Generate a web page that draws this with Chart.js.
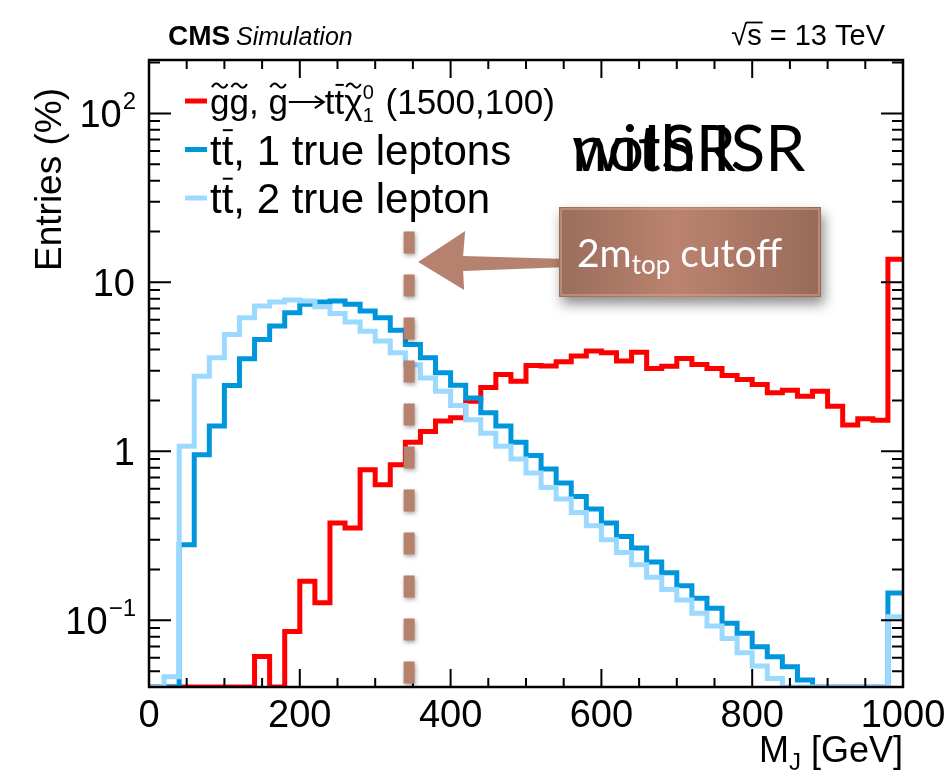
<!DOCTYPE html>
<html>
<head>
<meta charset="utf-8">
<script src="https://cdn.jsdelivr.net/npm/chart.js@4.4.1/dist/chart.umd.min.js"></script>
<style>
  html, body { margin: 0; padding: 0; background: #fff; }
</style>
</head>
<body>
<canvas id="mj" width="952" height="776"></canvas>
<script>
// Low edges of the 20 GeV M_J bins; the last bin closes at X_MAX
const binLow = [0, 20, 40, 60, 80, 100, 120, 140, 160, 180,
  200, 220, 240, 260, 280, 300, 320, 340, 360, 380,
  400, 420, 440, 460, 480, 500, 520, 540, 560, 580,
  600, 620, 640, 660, 680, 700, 720, 740, 760, 780,
  800, 820, 840, 860, 880, 900, 920, 940, 960, 980];
const X_MAX = 1000;

// Entries (%) per bin, 0 = empty bin
const gluino1500 = [0, 0, 0, 0, 0, 0, 0, 0.061, 0, 0.086,
  0.170, 0.127, 0.376, 0.352, 0.779, 0.635, 0.834, 1.13, 1.31, 1.51,
  1.58, 1.98, 2.39, 2.85, 2.60, 3.22, 3.20, 3.39, 3.66, 3.92,
  3.83, 3.42, 3.86, 3.09, 3.19, 3.54, 3.27, 3.09, 2.81, 2.66,
  2.49, 2.22, 2.30, 2.12, 2.27, 1.85, 1.43, 1.56, 1.53, 13.7];
const ttbar1Lep = [0, 0, 0.280, 0.956, 1.41, 2.45, 3.53, 4.59, 5.51, 6.61,
  7.41, 7.64, 7.75, 7.41, 6.76, 6.18, 5.20, 4.29, 3.58, 2.92,
  2.46, 2.07, 1.69, 1.41, 1.13, 0.944, 0.787, 0.650, 0.541, 0.456,
  0.376, 0.313, 0.268, 0.221, 0.191, 0.160, 0.135, 0.118, 0.096, 0.0838,
  0.0698, 0.0609, 0.0531, 0.0443, 0, 0, 0, 0, 0, 0.145];
const ttbar2Lep = [0, 0.0464, 1.07, 2.78, 3.58, 4.92, 6.18, 7.24, 7.64, 7.86,
  7.75, 7.18, 6.55, 5.82, 5.14, 4.49, 3.83, 3.25, 2.72, 2.27,
  1.87, 1.54, 1.28, 1.07, 0.90, 0.744, 0.61, 0.522, 0.435, 0.363,
  0.300, 0.252, 0.213, 0.180, 0.152, 0.132, 0.110, 0.0925, 0.078, 0.0642,
  0.0536, 0.0453, 0, 0, 0, 0, 0, 0, 0, 0.105];

// Axis ticks and labels
const xMajorTicks = [0, 200, 400, 600, 800, 1000];
const xTickLabels = ['0', '200', '400', '600', '800', '1000'];
const yMajorTicks = [0.1, 1, 10, 100];
const yTickBase = ['10', '1', '10', '10'];
const yTickExp = ['\u22121', '', '', '2'];
const Y_MIN = 0.0403;
const Y_MAX = 207;

// 2 m_top in GeV and the height the marker line reaches
const CUTOFF_GEV = 345;
const CUTOFF_TOP = 20;

const SANS = '"Liberation Sans", Arial, Helvetica, sans-serif';
const HUMANIST = 'Lato, "Open Sans", sans-serif';
const RED = '#ff0000';
const BLUE = '#0096dc';
const LIGHT = '#9cd9ff';

// histogram outline: one point per low edge plus the closing edge
function outline(vals) {
    const pts = binLow.map((x, i) => ({ x: x, y: Math.max(vals[i], Y_MIN) }));
    pts.push({ x: X_MAX, y: Math.max(vals[vals.length - 1], Y_MIN) });
    return pts;
}

function histSet(label, vals, color, order) {
    return {
        label: label,
        data: outline(vals),
        borderColor: color,
        borderWidth: 5,
        stepped: 'before',
        pointRadius: 0,
        fill: false,
        borderJoinStyle: 'miter',
        borderCapStyle: 'butt',
        order: order
    };
}

// small accent helpers for the legend text
function tilde(ctx, cx, ty, w) {
    const h = 3;
    ctx.beginPath();
    ctx.moveTo(cx - w / 2, ty + h / 2);
    ctx.quadraticCurveTo(cx - w / 4, ty - h * 1.6, cx, ty);
    ctx.quadraticCurveTo(cx + w / 4, ty + h * 1.6, cx + w / 2, ty - h / 2);
    ctx.lineWidth = 2;
    ctx.stroke();
}

function bar(ctx, x, ty, w) {
    ctx.beginPath();
    ctx.moveTo(x + w * 0.1, ty);
    ctx.lineTo(x + w * 0.95, ty);
    ctx.lineWidth = 2;
    ctx.stroke();
}

function arrow(ctx, x, ay, w) {
    ctx.lineWidth = 2;
    ctx.beginPath();
    ctx.moveTo(x + 1, ay);
    ctx.lineTo(x + w - 2, ay);
    ctx.moveTo(x + w - 10, ay - 6);
    ctx.lineTo(x + w - 1, ay);
    ctx.lineTo(x + w - 10, ay + 6);
    ctx.stroke();
}

// draws a run of text pieces; returns the x where it ends
function rich(ctx, x, y, parts, size) {
    for (const p of parts) {
        const s = p.size || size;
        ctx.font = s + 'px ' + SANS;
        if (p.arrow) {
            arrow(ctx, x, y - size * 0.33, p.arrow);
            x += p.arrow;
            continue;
        }
        const w = ctx.measureText(p.t).width;
        if (p.stack) {
            ctx.fillText(p.stack[0], x, y - size * 0.42);
            ctx.fillText(p.stack[1], x, y + size * 0.24);
            x += Math.max(w, ctx.measureText(p.stack[1]).width) + 2;
            continue;
        }
        ctx.fillText(p.t, x, y);
        if (p.acc === 'tilde') tilde(ctx, x + w / 2, y - size * 0.8, w * 0.8);
        if (p.acc === 'bar') bar(ctx, x, y - size * 0.82, w);
        x += w;
    }
    return x;
}

const legendRows = [
    { color: RED, size: 35, parts: [
        { t: 'g', acc: 'tilde' }, { t: 'g', acc: 'tilde' }, { t: ', ' }, { t: 'g', acc: 'tilde' },
        { arrow: 37 }, { t: 't' }, { t: 't', acc: 'bar' }, { t: '\u03c7', acc: 'tilde' },
        { t: '0', size: 20, stack: ['0', '1'] }, { t: ' (1500,100)' }] },
    { color: BLUE, size: 42, parts: [{ t: 't' }, { t: 't', acc: 'bar' }, { t: ', 1 true leptons' }] },
    { color: LIGHT, size: 42, parts: [{ t: 't' }, { t: 't', acc: 'bar' }, { t: ', 2 true lepton' }] }
];

const decorations = {
    id: 'decorations',
    afterDatasetsDraw(chart) {
        const ctx = chart.ctx;
        const a = chart.chartArea;
        const xs = chart.scales.x;
        const ys = chart.scales.y;
        ctx.save();
        ctx.fillStyle = '#000';
        ctx.strokeStyle = '#000';

        // frame
        ctx.lineWidth = 2.5;
        ctx.strokeRect(a.left, a.top, a.right - a.left, a.bottom - a.top);

        // x ticks, bottom and top
        ctx.lineWidth = 2;
        for (let v = 0; v <= X_MAX; v += 50) {
            const px = xs.getPixelForValue(v);
            const len = v % 200 === 0 ? 18 : 9;
            ctx.beginPath();
            ctx.moveTo(px, a.bottom); ctx.lineTo(px, a.bottom - len);
            ctx.moveTo(px, a.top); ctx.lineTo(px, a.top + len);
            ctx.stroke();
        }
        // y ticks, left and right
        for (let k = -2; k <= 2; k++) {
            for (let m = 1; m <= 9; m++) {
                const v = m * Math.pow(10, k);
                if (v < Y_MIN || v > Y_MAX) continue;
                const py = ys.getPixelForValue(v);
                const len = m === 1 ? 22 : 11;
                ctx.beginPath();
                ctx.moveTo(a.left, py); ctx.lineTo(a.left + len, py);
                ctx.moveTo(a.right, py); ctx.lineTo(a.right - len, py);
                ctx.stroke();
            }
        }

        // tick labels
        ctx.textBaseline = 'alphabetic';
        ctx.textAlign = 'center';
        ctx.font = '38px ' + SANS;
        xMajorTicks.forEach((v, i) => {
            ctx.fillText(xTickLabels[i], xs.getPixelForValue(v), a.bottom + 40);
        });
        ctx.textAlign = 'left';
        yMajorTicks.forEach((v, i) => {
            const py = ys.getPixelForValue(v);
            ctx.font = '38px ' + SANS;
            const wb = ctx.measureText(yTickBase[i]).width;
            ctx.font = '24px ' + SANS;
            const we = ctx.measureText(yTickExp[i]).width;
            const x0 = a.left - 14 - wb - we;
            ctx.font = '38px ' + SANS;
            ctx.fillText(yTickBase[i], x0, py + 14);
            ctx.font = '24px ' + SANS;
            ctx.fillText(yTickExp[i], x0 + wb + 1, py - 4);
        });

        // axis titles
        ctx.save();
        ctx.translate(61, 88);
        ctx.rotate(-Math.PI / 2);
        ctx.textAlign = 'right';
        ctx.font = '37px ' + SANS;
        ctx.fillText('Entries (%)', 0, 0);
        ctx.restore();

        ctx.textAlign = 'left';
        ctx.font = '36px ' + SANS;
        const wTail = ctx.measureText(' [GeV]').width;
        const wM = ctx.measureText('M').width;
        ctx.font = '24px ' + SANS;
        const wJ = ctx.measureText('J').width;
        const tx = a.right - wTail - wJ - wM;
        ctx.font = '36px ' + SANS;
        ctx.fillText('M', tx, 762);
        ctx.font = '24px ' + SANS;
        ctx.fillText('J', tx + wM, 770);
        ctx.font = '36px ' + SANS;
        ctx.fillText(' [GeV]', tx + wM + wJ, 762);

        // header
        ctx.font = 'bold 28px ' + SANS;
        ctx.fillText('CMS', 168, 45);
        const wCms = ctx.measureText('CMS ').width;
        ctx.font = 'italic 25px ' + SANS;
        ctx.fillText('Simulation', 166 + wCms, 45);

        ctx.font = '29px ' + SANS;
        const energy = ' = 13 TeV';
        const wE = ctx.measureText(energy).width;
        const wS = ctx.measureText('s').width;
        const wRoot = ctx.measureText('\u221a').width;
        const ex = a.right - 18 - wE - wS - wRoot;
        ctx.fillText('\u221a', ex, 45);
        ctx.fillText('s', ex + wRoot, 45);
        ctx.lineWidth = 1.8;
        ctx.beginPath();
        ctx.moveTo(ex + wRoot - 1, 22.5);
        ctx.lineTo(ex + wRoot + wS + 1, 22.5);
        ctx.stroke();
        ctx.fillText(energy, ex + wRoot + wS, 45);

        // legend
        legendRows.forEach((row, i) => {
            const yc = 101 + i * 48.5;
            ctx.strokeStyle = row.color;
            ctx.lineWidth = 5;
            ctx.beginPath();
            ctx.moveTo(185, yc); ctx.lineTo(207, yc);
            ctx.stroke();
            ctx.strokeStyle = '#000';
            ctx.fillStyle = '#000';
            rich(ctx, 210, yc + row.size * 0.36, row.parts, row.size);
        });

        // overlaid ISR captions
        ctx.font = '64px ' + HUMANIST;
        ctx.fillText('noISR', 572, 171);
        ctx.fillText('with ISR', 572, 171);

        // 2 m_top marker line
        const cx = xs.getPixelForValue(CUTOFF_GEV);
        ctx.save();
        ctx.strokeStyle = '#b7826d';
        ctx.lineWidth = 11;
        ctx.setLineDash([22, 21]);
        ctx.shadowColor = 'rgba(0,0,0,0.35)';
        ctx.shadowBlur = 4;
        ctx.shadowOffsetX = 1;
        ctx.shadowOffsetY = 2;
        ctx.beginPath();
        ctx.moveTo(cx, ys.getPixelForValue(CUTOFF_TOP));
        ctx.lineTo(cx, a.bottom);
        ctx.stroke();
        ctx.restore();

        // arrow pointing at the marker
        const tipX = cx + 9;
        ctx.save();
        ctx.fillStyle = 'rgba(178,122,102,0.95)';
        ctx.beginPath();
        ctx.moveTo(tipX, 262);
        ctx.lineTo(tipX + 47, 231);
        ctx.lineTo(tipX + 45, 256);
        ctx.lineTo(tipX + 150, 259);
        ctx.lineTo(tipX + 150, 267);
        ctx.lineTo(tipX + 45, 271);
        ctx.lineTo(tipX + 46, 290);
        ctx.closePath();
        ctx.fill();
        ctx.restore();

        // caption box
        const bx = 559, by = 207, bw = 262, bh = 90;
        ctx.save();
        ctx.shadowColor = 'rgba(0,0,0,0.45)';
        ctx.shadowBlur = 12;
        ctx.shadowOffsetX = 3;
        ctx.shadowOffsetY = 7;
        const g = ctx.createLinearGradient(bx, 0, bx + bw, 0);
        g.addColorStop(0, '#9a6d5b');
        g.addColorStop(0.45, '#bb836f');
        g.addColorStop(1, '#986a59');
        ctx.fillStyle = g;
        ctx.fillRect(bx, by, bw, bh);
        ctx.restore();
        ctx.strokeStyle = 'rgba(215,165,145,0.7)';
        ctx.lineWidth = 1.5;
        ctx.strokeRect(bx + 2, by + 2, bw - 4, bh - 4);

        ctx.fillStyle = '#fff';
        ctx.font = '39px ' + HUMANIST;
        ctx.fillText('2m', 577, 267);
        let bxT = 577 + ctx.measureText('2m').width;
        ctx.font = '26px ' + HUMANIST;
        ctx.fillText('top', bxT, 274);
        bxT += ctx.measureText('top').width;
        ctx.font = '39px ' + HUMANIST;
        ctx.fillText(' cutoff', bxT, 267);

        ctx.restore();
    }
};

new Chart(document.getElementById('mj'), {
    type: 'line',
    data: {
        datasets: [
            histSet('gluino (1500,100)', gluino1500, RED, 2),
            histSet('ttbar, 1 true leptons', ttbar1Lep, BLUE, 1),
            histSet('ttbar, 2 true lepton', ttbar2Lep, LIGHT, 0)
        ]
    },
    plugins: [decorations],
    options: {
        responsive: false,
        devicePixelRatio: 1,
        animation: false,
        layout: { padding: { left: 149, right: 49, top: 60, bottom: 89 } },
        plugins: { legend: { display: false }, tooltip: { enabled: false } },
        scales: {
            x: { type: 'linear', min: 0, max: X_MAX, display: false },
            y: { type: 'logarithmic', min: Y_MIN, max: Y_MAX, display: false }
        }
    }
});
</script>
</body>
</html>
